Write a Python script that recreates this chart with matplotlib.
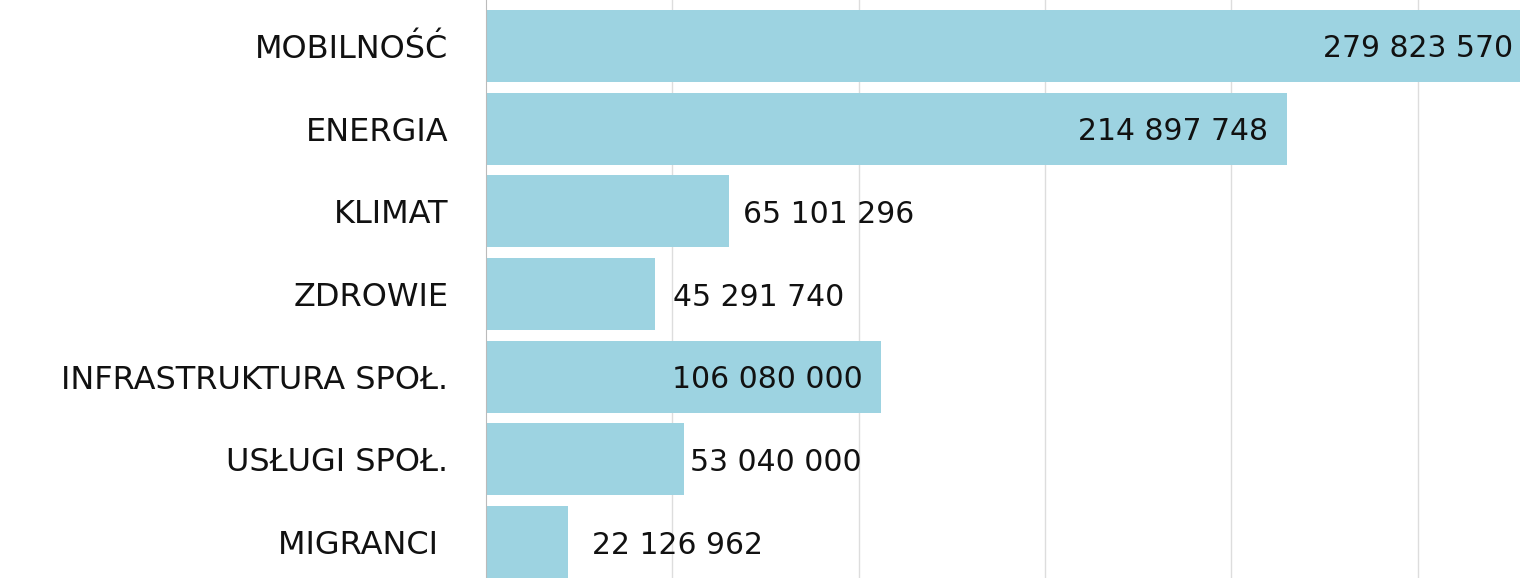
import numpy as np
from matplotlib import pyplot as plt

# data
categories = ['MOBILNOŚĆ', 'ENERGIA', 'KLIMAT', 'ZDROWIE',
              'INFRASTRUKTURA SPOŁ.', 'USŁUGI SPOŁ.', 'MIGRANCI ']
values = [279823570, 214897748, 65101296, 45291740, 106080000, 53040000, 22126962]
value_labels = ['279 823 570', '214 897 748', '65 101 296', '45 291 740',
                '106 080 000', '53 040 000', '22 126 962']

# label placement: inside bar end or just outside (offset in px)
inside = [True, True, False, False, True, False, False]
nudge = [-16, -19, 14, 18, -19, 6, 24]

bar_color = '#9dd3e1'
plt.rcParams['font.family'] = ['DejaVu Sans']

fig = plt.figure(figsize=(15.2, 5.78), dpi=100)
ax = fig.add_axes([486 / 1520, 0, 1 - 486 / 1520, 1])

y = np.arange(len(categories))
ax.barh(y, values, height=0.87, color=bar_color, zorder=2)

for i, v in enumerate(values):
    ax.annotate(value_labels[i], (v, y[i]), xytext=(nudge[i], -3),
                textcoords='offset pixels', va='center',
                ha='right' if inside[i] else 'left',
                fontsize=21.5, color='#111111', zorder=3,
                annotation_clip=False)

ax.set_xlim(0, 277.4e6)
ax.set_ylim(6.435, -0.556)
ax.set_xticks(np.arange(50e6, 277e6, 50e6))
ax.xaxis.grid(True, color='#dddddd', linewidth=1, zorder=0)
ax.tick_params(axis='x', bottom=False, labelbottom=False)
ax.tick_params(axis='y', left=False, pad=23.5, labelsize=23)
ax.set_yticks(y)
ax.set_yticklabels(categories, color='#111111')

for s in ['top', 'right', 'bottom']:
    ax.spines[s].set_visible(False)
ax.spines['left'].set_color('#bbbbbb')
ax.spines['left'].set_zorder(3)

plt.savefig('out.png', dpi=100)
plt.close()
